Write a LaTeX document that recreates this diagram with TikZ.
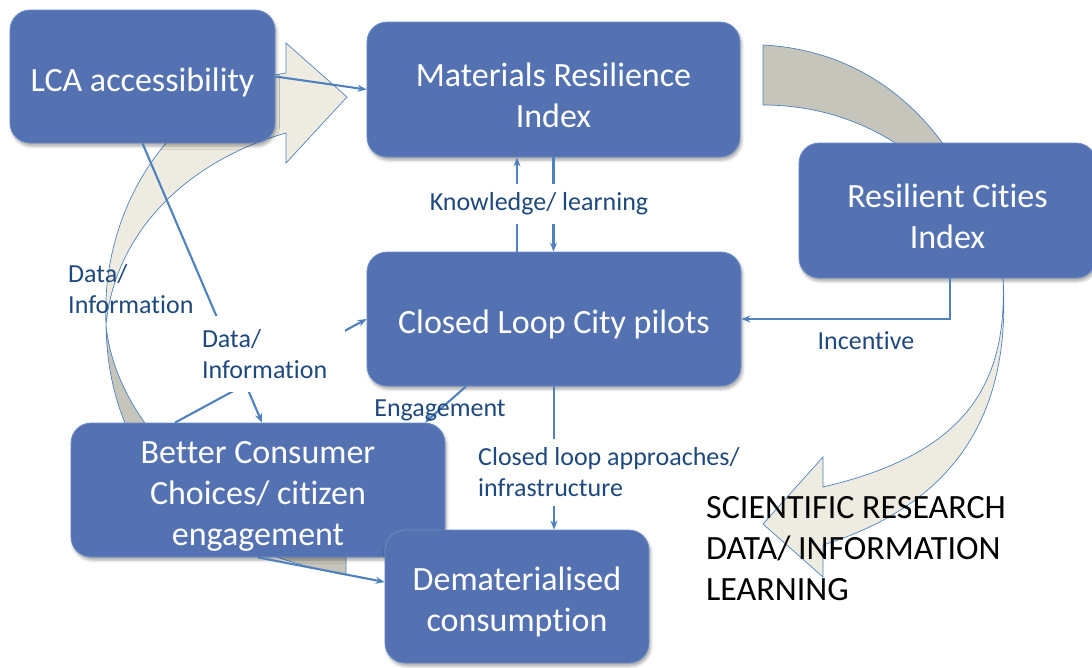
\documentclass[tikz,border=0pt]{standalone}
\usepackage{fontspec}
\setmainfont{Carlito}[Ligatures={NoCommon}]
\usetikzlibrary{arrows.meta,calc,shadows.blur}
\definecolor{boxblue}{RGB}{84,114,178}
\definecolor{boxedge}{RGB}{110,140,200}
\definecolor{conn}{RGB}{79,129,189}
\definecolor{lbltext}{RGB}{31,73,125}
\definecolor{abeige}{RGB}{238,236,225}
\definecolor{agrey}{RGB}{198,197,187}
\pgfdeclarelayer{bg}
\pgfsetlayers{bg,main}
\newcommand\tpstrut{\rule{0pt}{35pt}}
\tikzset{
  cbox/.style={draw=boxedge, line width=0.8pt, fill=boxblue, rounded corners=20pt,
    text=white, align=center, font=\fontsize{34}{41}\selectfont, inner sep=0pt,
    blur shadow={shadow xshift=1.5pt, shadow yshift=-3pt, shadow blur radius=3pt, shadow opacity=35}},
  link/.style={draw=conn, line width=2.1pt, -{Stealth[length=9pt,width=7pt]}},
  lbl/.style={text=lbltext, font=\fontsize{26}{31}\selectfont, inner sep=2pt},
  bandarrow/.style={draw=conn, line width=0.7pt}
}
\begin{document}
\begin{tikzpicture}[x=1pt,y=-1pt]
\useasboundingbox (0,0) rectangle (1092,667);

% boxes
\node[cbox, minimum width=265pt, minimum height=133pt] (lca) at (142.5,76.5) {\tpstrut LCA accessibility};
\node[cbox, minimum width=373pt, minimum height=135pt] (mri) at (553.5,89.5) {\tpstrut Materials Resilience\\Index};
\node[cbox, minimum width=297pt, minimum height=135pt] (rci) at (947.5,210.5) {\tpstrut Resilient Cities\\Index};
\node[cbox, minimum width=374pt, minimum height=134pt] (clc) at (554,319) {\tpstrut Closed Loop City pilots};
\node[cbox, minimum width=374pt, minimum height=134pt] (bcc) at (258,490) {\tpstrut Better Consumer\\Choices/ citizen\\engagement};
\node[cbox, minimum width=264pt, minimum height=133pt] (dc) at (517,596.5) {\tpstrut Dematerialised\\consumption};

% big curved arrows
\begin{pgfonlayer}{bg}
\draw[bandarrow, fill=abeige] (286,73) -- (286,43) -- (347,97) -- (286,163) -- (286,133)
  .. controls (190,160) and (115,230) .. (106,325)
  .. controls (100,200) and (180,90) .. (286,73) -- cycle;
\draw[bandarrow, fill=agrey] (106,325) .. controls (108,450) and (180,545) .. (346,575)
  -- (346,548) .. controls (210,520) and (115,420) .. (106,325) -- cycle;
\draw[bandarrow, fill=agrey] (763,45) .. controls (860,50) and (960,110) .. (1003,278)
  .. controls (960,170) and (870,105) .. (763,105) -- cycle;
\draw[bandarrow, fill=abeige] (1003,278) .. controls (1012,420) and (950,505) .. (823,545)
  -- (823,577) -- (763,524) -- (823,457) -- (823,487)
  .. controls (960,455) and (1008,390) .. (1003,278) -- cycle;
\end{pgfonlayer}

% connectors
\draw[link] (lca.east) -- (mri.west);
\draw[link] (lca.south) -- ($(bcc.north)+(4,0)$);
\draw[link] ($(bcc.north)+(-83,0)$) -- (clc.west);
\coordinate (k1) at ($(clc.north)+(-37,0)$);
\draw[link] (k1) -- (k1 |- mri.south);
\draw[link] (mri.south) -- (mri.south |- clc.north);
\draw[link] ($(rci.south)+(2.5,0)$) |- (clc.east);
\draw[link] ($(clc.south)+(-88,0)$) -- ($(bcc.north)+(167,0)$);
\draw[link] (clc.south) -- (clc.south |- dc.north);
\draw[link] (bcc.south) -- ($(dc.west)+(0,-14.5)$);

% labels
\node[lbl, fill=white, inner ysep=9pt] (lknow) at (539,204) {Knowledge/ learning};
\node[lbl, align=left, anchor=west] (ldata1) at (66,289) {Data/\\Information};
\node[lbl, fill=white, align=left, text width=138pt, inner xsep=5pt, inner ysep=0pt,
      minimum width=148pt, minimum height=76pt] (ldata2) at (271,354) {Data/\\Information};
\node[lbl] (linc) at (866,341) {Incentive};
\node[lbl] (leng) at (440,410) {Engagement};
\node[lbl, fill=white, align=left, anchor=west, inner ysep=9pt] (lclosed) at (476,472.5) {Closed loop approaches/\\infrastructure};
\node[anchor=west, align=left, font=\fontsize{34}{41}\selectfont, text=black, inner sep=2pt] (lsci) at (704,549)
  {SCIENTIFIC RESEARCH\\DATA/ INFORMATION\\LEARNING};
\end{tikzpicture}
\end{document}
